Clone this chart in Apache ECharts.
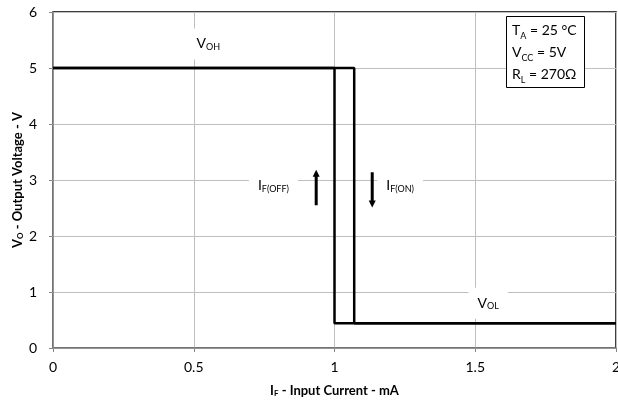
<!DOCTYPE html>
<html><head><meta charset="utf-8">
<script src="https://cdn.jsdelivr.net/npm/echarts@6/dist/echarts.min.js"></script>
<style>html,body{margin:0;padding:0;background:#fff}#c{width:618px;height:405px}</style>
</head><body><div id="c"></div>
<script>
// Data
var xTicks = [0, 0.5, 1, 1.5, 2];
var yTicks = [0, 1, 2, 3, 4, 5, 6];
var risingX = [0, 1.07, 1.07, 2];      // I_F increasing (switch at IF(ON))
var risingY = [5, 5, 0.44, 0.44];
var fallingX = [2, 1.0, 1.0, 0];       // I_F decreasing (switch at IF(OFF))
var fallingY = [0.44, 0.44, 5, 5];
var labelPos = [[0.552, 5.43], [1.546, 0.80], [0.783, 2.90], [1.233, 2.90]];
var labelText = ['{m|V}{s|OH}', '{m|V}{s|OL}', '{m|I}{s|F(OFF)}', '{m|I}{s|F(ON)}'];
var arrowUp = [[0.935, 2.55], [0.935, 3.12]];
var arrowDown = [[1.134, 3.14], [1.134, 2.57]];

function pairs(xs, ys) { return xs.map(function (x, i) { return [x, ys[i]]; }); }

var FONT = 'Lato, "Open Sans", sans-serif';
var rich = {
  m: { fontFamily: FONT, fontSize: 14, color: '#000', fontWeight: 'normal' },
  s: { fontFamily: FONT, fontSize: 9, color: '#000', fontWeight: 'normal', verticalAlign: 'bottom', padding: [6, 0, 0, 0] }
};

var chart = echarts.init(document.getElementById('c'));
chart.setOption({
  animation: false,
  textStyle: { fontFamily: FONT },
  grid: { left: 53, right: 2, top: 12, bottom: 57, outerBoundsMode: 'none', containLabel: false, show: true, borderColor: '#000', borderWidth: 1.5, backgroundColor: '#fff' },
  title: {
    text: '{m|T}{s|A}{m| = 25 °C}\n{m|V}{s|CC}{m| = 5V}\n{m|R}{s|L}{m| = 270Ω}',
    left: 506, top: 16,
    padding: [3, 8, 3, 6],
    borderColor: '#000', borderWidth: 1, backgroundColor: '#fff',
    textStyle: { rich: rich, lineHeight: 22, fontWeight: 'normal' }
  },
  xAxis: {
    type: 'value', min: 0, max: 2, interval: 0.5,
    name: '{b|I}{bs|F}{b| - Input Current - mA}', nameLocation: 'middle', nameGap: 36, nameMoveOverlap: false,
    nameTextStyle: { rich: {
      b: { fontFamily: FONT, fontSize: 13, fontWeight: 'bold', color: '#000' },
      bs: { fontFamily: FONT, fontSize: 8, fontWeight: 'bold', color: '#000', verticalAlign: 'bottom', padding: [5, 0, 0, 0] }
    } },
    axisLine: { lineStyle: { color: '#868686', width: 1.5 } },
    axisTick: { show: true, length: 4, lineStyle: { color: '#868686' } },
    axisLabel: { color: '#000', fontSize: 14, margin: 12, formatter: function (v) { return xTicks.indexOf(v) >= 0 ? String(v) : ''; } },
    splitLine: { lineStyle: { color: '#bfbfbf', width: 1 } }
  },
  yAxis: {
    type: 'value', min: 0, max: 6, interval: 1,
    name: '{b|V}{bs|O}{b| - Output Voltage - V}', nameLocation: 'middle', nameGap: 29, nameMoveOverlap: false,
    nameTextStyle: { rich: {
      b: { fontFamily: FONT, fontSize: 13, fontWeight: 'bold', color: '#000' },
      bs: { fontFamily: FONT, fontSize: 8, fontWeight: 'bold', color: '#000', verticalAlign: 'bottom', padding: [5, 0, 0, 0] }
    } },
    axisLine: { show: true, lineStyle: { color: '#868686', width: 1.5 } },
    axisTick: { show: true, length: 4, lineStyle: { color: '#868686' } },
    axisLabel: { color: '#000', fontSize: 14, margin: 16, formatter: function (v) { return yTicks.indexOf(v) >= 0 ? String(v) : ''; } },
    splitLine: { lineStyle: { color: '#bfbfbf', width: 1 } }
  },
  series: [
    {
      type: 'scatter', symbolSize: 1, z: 3, itemStyle: { color: 'rgba(0,0,0,0)' },
      data: labelPos.map(function (p, i) {
        return { value: p, label: { show: true, position: 'inside', color: '#000', opacity: 1, textBorderWidth: 0, formatter: labelText[i], rich: rich, backgroundColor: '#fff', padding: [8, 9, 8, 9] } };
      })
    },
    {
      type: 'line', data: pairs(risingX, risingY), symbol: 'none', z: 4,
      lineStyle: { color: '#000', width: 2.5 }
    },
    {
      type: 'line', data: pairs(fallingX, fallingY), symbol: 'none', z: 4,
      lineStyle: { color: '#000', width: 2.5 }
    },
    {
      type: 'line', data: arrowUp, symbol: 'none', z: 5,
      lineStyle: { color: '#000', width: 3 },
      markPoint: { symbol: 'triangle', symbolSize: [7, 7], itemStyle: { color: '#000' }, label: { show: false },
        data: [{ coord: arrowUp[1] }] }
    },
    {
      type: 'line', data: arrowDown, symbol: 'none', z: 5,
      lineStyle: { color: '#000', width: 3 },
      markPoint: { symbol: 'triangle', symbolSize: [7, 7], symbolRotate: 180, itemStyle: { color: '#000' }, label: { show: false },
        data: [{ coord: arrowDown[1] }] }
    }
  ]
});
</script></body></html>
